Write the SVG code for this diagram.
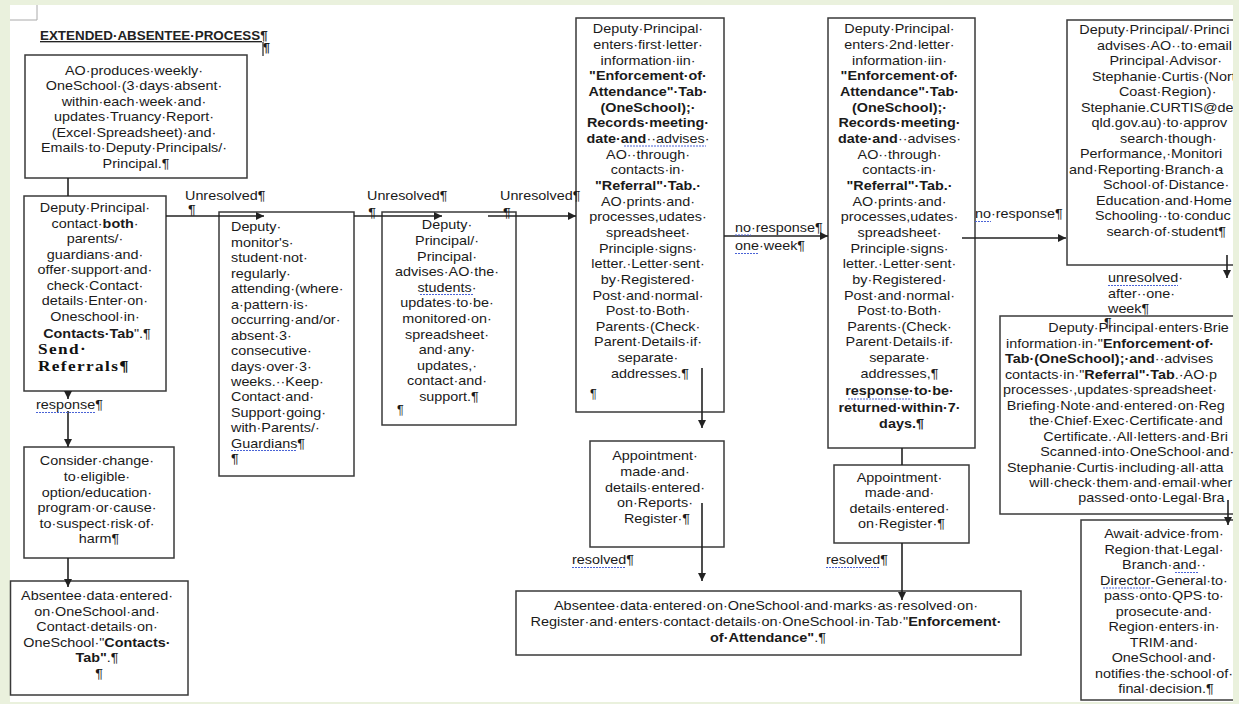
<svg xmlns="http://www.w3.org/2000/svg" width="1239" height="704" viewBox="0 0 1239 704">
<style>
.bx{fill:#fff;stroke:#3a3a3a;stroke-width:1.5}
.t{font-family:"Liberation Sans",Arial,sans-serif;font-size:12.5px;fill:#1a1a1a}
.b{font-weight:bold}
.c{text-anchor:middle}
.ln{stroke:#222;stroke-width:1.6;fill:none}
.ar{marker-end:url(#ah)}
.sq{stroke:#4a63d6;stroke-width:1;stroke-dasharray:2 1;fill:none}
.sf{font-family:"Liberation Serif","Times New Roman",serif;font-size:15px;font-weight:bold;fill:#111;letter-spacing:1.2px}
</style>
<defs>
<marker id="ah" markerWidth="8" markerHeight="8" refX="8" refY="4" orient="auto" markerUnits="userSpaceOnUse"><path d="M0,0 L8,4 L0,8 z" fill="#222"/></marker>
</defs>
<rect x="0" y="0" width="1239" height="704" fill="#eaf1dd"/>
<rect x="10" y="5" width="1223" height="697" fill="#fff"/>
<path d="M10,20 H37 V5" fill="none" stroke="#aaa" stroke-width="1"/>
<g id="title">
<text x="40" y="40" font-family="Liberation Sans,Arial,sans-serif" font-size="13.4" font-weight="bold" fill="#222" text-decoration="underline">EXTENDED·ABSENTEE·PROCESS¶</text>
<text x="263" y="52" class="t b">¶</text>
<line x1="263" y1="42" x2="263" y2="56" stroke="#222" stroke-width="1.2"/>
</g>

<g id="n1"><rect class="bx" x="25" y="55" width="222" height="123"/>
<text class="t c" transform="matrix(1.15 0 0 1 136 0)">
<tspan x="0" y="75">AO·produces·weekly·</tspan>
<tspan x="0" y="90.5">OneSchool·(3·days·absent·</tspan>
<tspan x="0" y="106">within·each·week·and·</tspan>
<tspan x="0" y="121.5">updates·Truancy·Report·</tspan>
<tspan x="0" y="137">(Excel·Spreadsheet)·and·</tspan>
<tspan x="0" y="152.5">Emails·to·Deputy·Principals/·</tspan>
<tspan x="0" y="168">Principal.¶</tspan></text></g>

<g id="n2"><rect class="bx" x="24" y="196" width="142" height="195"/>
<text class="t c" transform="matrix(1.15 0 0 1 97 0)">
<tspan x="0" y="212.5">Deputy·Principal·</tspan>
<tspan x="0" y="228">contact·<tspan class="b">both</tspan>·</tspan>
<tspan x="0" y="243.5">parents/·</tspan>
<tspan x="0" y="259">guardians·and·</tspan>
<tspan x="0" y="274.5">offer·support·and·</tspan>
<tspan x="0" y="290">check·Contact·</tspan>
<tspan x="0" y="305.5">details·Enter·on·</tspan>
<tspan x="0" y="321.5">Oneschool·in·</tspan>
<tspan x="0" y="338"><tspan class="b">Contacts·Tab</tspan>".¶</tspan></text>
<text class="sf" transform="matrix(1.15 0 0 1 38 0)"><tspan x="0" y="354">Send·</tspan><tspan x="0" y="371">Referrals¶</tspan></text></g>

<g id="n3"><rect class="bx" x="219" y="212" width="135" height="264"/>
<text class="t" transform="matrix(1.15 0 0 1 231 0)">
<tspan x="0" y="231.5">Deputy·</tspan>
<tspan x="0" y="247">monitor's·</tspan>
<tspan x="0" y="262.4">student·not·</tspan>
<tspan x="0" y="277.9">regularly·</tspan>
<tspan x="0" y="293.3">attending·(where·</tspan>
<tspan x="0" y="308.8">a·pattern·is·</tspan>
<tspan x="0" y="324.2">occurring·and/or·</tspan>
<tspan x="0" y="339.7">absent·3·</tspan>
<tspan x="0" y="355.1">consecutive·</tspan>
<tspan x="0" y="370.6">days·over·3·</tspan>
<tspan x="0" y="386">weeks.··Keep·</tspan>
<tspan x="0" y="401.5">Contact·and·</tspan>
<tspan x="0" y="416.9">Support·going·</tspan>
<tspan x="0" y="432.4">with·Parents/·</tspan>
<tspan x="0" y="447.8">Guardians¶</tspan>
<tspan x="0" y="463.3">¶</tspan></text>
<line class="sq" x1="231" y1="450.5" x2="297" y2="450.5"/></g>

<g id="n4"><rect class="bx" x="382" y="212" width="134" height="213"/>
<text class="t c" transform="matrix(1.15 0 0 1 449 0)">
<tspan x="0" y="229.5">Deputy·</tspan>
<tspan x="0" y="245.1">Principal/·</tspan>
<tspan x="0" y="260.7">Principal·</tspan>
<tspan x="0" y="276.3">advises·AO·the·</tspan>
<tspan x="0" y="291.9">students·</tspan>
<tspan x="0" y="307.5">updates·to·be·</tspan>
<tspan x="0" y="323.1">monitored·on·</tspan>
<tspan x="0" y="338.7">spreadsheet·</tspan>
<tspan x="0" y="354.3">and·any·</tspan>
<tspan x="0" y="369.9">updates,·</tspan>
<tspan x="0" y="385.5">contact·and·</tspan>
<tspan x="0" y="401.1">support.¶</tspan></text>
<text class="t" x="397" y="414">¶</text>
<line class="sq" x1="420" y1="294.5" x2="474" y2="294.5"/></g>

<g id="n5"><rect class="bx" x="576" y="18" width="148" height="394"/>
<text class="t c" transform="matrix(1.15 0 0 1 650 0)">
<tspan x="0" y="33.5">Deputy·Principal·</tspan>
<tspan x="0" y="49.2">enters·first·letter·</tspan>
<tspan x="0" y="64.8">information·iin·</tspan>
<tspan x="0" y="80.5" class="b">"Enforcement·of·</tspan>
<tspan x="0" y="96.1" class="b">Attendance"·Tab·</tspan>
<tspan x="0" y="111.8" class="b">(OneSchool);·</tspan>
<tspan x="0" y="127.4" class="b">Records·meeting·</tspan>
<tspan x="0" y="143.1"><tspan class="b">date·and</tspan>··advises·</tspan>
<tspan x="0" y="158.7">AO··through·</tspan>
<tspan x="0" y="174.4">contacts·in·</tspan>
<tspan x="0" y="190" class="b">"Referral"·Tab.·</tspan>
<tspan x="0" y="205.7">AO·prints·and·</tspan>
<tspan x="0" y="221.3">processes,udates·</tspan>
<tspan x="0" y="237">spreadsheet·</tspan>
<tspan x="0" y="252.6">Principle·signs·</tspan>
<tspan x="0" y="268.3">letter.·Letter·sent·</tspan>
<tspan x="0" y="283.9">by·Registered·</tspan>
<tspan x="0" y="299.6">Post·and·normal·</tspan>
<tspan x="0" y="315.2">Post·to·Both·</tspan>
<tspan x="0" y="330.9">Parents·(Check·</tspan>
<tspan x="0" y="346.5">Parent·Details·if·</tspan>
<tspan x="0" y="362.2">separate·</tspan>
<tspan x="0" y="377.8">addresses.¶</tspan></text>
<text class="t" x="590" y="398">¶</text>
<line class="sq" x1="624" y1="146" x2="706" y2="146"/></g>

<g id="n6"><rect class="bx" x="828" y="18" width="147" height="430"/>
<text class="t c" transform="matrix(1.15 0 0 1 901.5 0)">
<tspan x="0" y="33.5">Deputy·Principal·</tspan>
<tspan x="0" y="49.2">enters·2nd·letter·</tspan>
<tspan x="0" y="64.8">information·iin·</tspan>
<tspan x="0" y="80.5" class="b">"Enforcement·of·</tspan>
<tspan x="0" y="96.1" class="b">Attendance"·Tab·</tspan>
<tspan x="0" y="111.8" class="b">(OneSchool);·</tspan>
<tspan x="0" y="127.4" class="b">Records·meeting·</tspan>
<tspan x="0" y="143.1"><tspan class="b">date·and</tspan>··advises·</tspan>
<tspan x="0" y="158.7">AO··through·</tspan>
<tspan x="0" y="174.4">contacts·in·</tspan>
<tspan x="0" y="190" class="b">"Referral"·Tab.·</tspan>
<tspan x="0" y="205.7">AO·prints·and·</tspan>
<tspan x="0" y="221.3">processes,udates·</tspan>
<tspan x="0" y="237">spreadsheet·</tspan>
<tspan x="0" y="252.6">Principle·signs·</tspan>
<tspan x="0" y="268.3">letter.·Letter·sent·</tspan>
<tspan x="0" y="283.9">by·Registered·</tspan>
<tspan x="0" y="299.6">Post·and·normal·</tspan>
<tspan x="0" y="315.2">Post·to·Both·</tspan>
<tspan x="0" y="330.9">Parents·(Check·</tspan>
<tspan x="0" y="346.5">Parent·Details·if·</tspan>
<tspan x="0" y="362.2">separate·</tspan>
<tspan x="0" y="377.8">addresses,¶</tspan>
<tspan x="0" y="395.5" class="b">response·to·be·</tspan>
<tspan x="0" y="412.5" class="b">returned·within·7·</tspan>
<tspan x="0" y="428.5" class="b">days.¶</tspan></text>
<line class="sq" x1="848" y1="399" x2="912" y2="399"/></g>

<g id="n7"><rect class="bx" x="590" y="441" width="134" height="106"/>
<text class="t c" transform="matrix(1.15 0 0 1 657 0)">
<tspan x="0" y="460.5">Appointment·</tspan>
<tspan x="0" y="476.5">made·and·</tspan>
<tspan x="0" y="492.5">details·entered·</tspan>
<tspan x="0" y="507.5">on·Reports·</tspan>
<tspan x="0" y="523.5">Register·¶</tspan></text></g>

<g id="n8"><rect class="bx" x="834" y="465" width="135" height="78"/>
<text class="t c" transform="matrix(1.15 0 0 1 901.5 0)">
<tspan x="0" y="482.5">Appointment·</tspan>
<tspan x="0" y="497.5">made·and·</tspan>
<tspan x="0" y="513.5">details·entered·</tspan>
<tspan x="0" y="528.5">on·Register·¶</tspan></text></g>

<g id="n9"><rect class="bx" x="516" y="591" width="505" height="64"/>
<text class="t c" transform="matrix(1.16 0 0 1 768 0)">
<tspan x="0" y="610.5">Absentee·data·entered·on·OneSchool·and·marks·as·resolved·on·</tspan>
<tspan x="0" y="626.5">Register·and·enters·contact·details·on·OneSchool·in·Tab·"<tspan class="b">Enforcement·</tspan></tspan>
<tspan x="0" y="642.5"><tspan class="b">of·Attendance"</tspan>.¶</tspan></text></g>

<g id="n10"><rect class="bx" x="1067" y="20" width="200" height="245"/>
<text class="t" transform="matrix(1.15 0 0 1 1067 0)">
<tspan x="10.7" y="34.5">Deputy·Principal/·Princi</tspan>
<tspan x="26.1" y="50">advises·AO··to·email</tspan>
<tspan x="36.9" y="65.5">Principal·Advisor·</tspan>
<tspan x="21.7" y="81">Stephanie·Curtis·(Nort</tspan>
<tspan x="45.2" y="96.5">Coast·Region)·</tspan>
<tspan x="12.2" y="112">Stephanie.CURTIS@de</tspan>
<tspan x="21.4" y="127.5">qld.gov.au)·to·approv</tspan>
<tspan x="46.1" y="143">search·though·</tspan>
<tspan x="11.3" y="158.5">Performance,·Monitori</tspan>
<tspan x="1.7" y="174">and·Reporting·Branch·a</tspan>
<tspan x="31.3" y="189.5">School·of·Distance·</tspan>
<tspan x="25.2" y="205">Education·and·Home</tspan>
<tspan x="24.3" y="220.5">Schooling··to·conduc</tspan>
<tspan x="34.3" y="236">search·of·student¶</tspan></text></g>

<g id="n11"><rect class="bx" x="1000" y="316" width="280" height="198"/>
<text class="t" transform="matrix(1.15 0 0 1 1000 0)">
<tspan x="42" y="332.5">Deputy·Principal·enters·Brie</tspan>
<tspan x="5.2" y="348">information·in·"<tspan class="b">Enforcement·of·</tspan></tspan>
<tspan x="4.3" y="363.4"><tspan class="b">Tab·(OneSchool);·and</tspan>··advises</tspan>
<tspan x="4.3" y="378.9">contacts·in·"<tspan class="b">Referral"·Tab</tspan>.·AO·p</tspan>
<tspan x="2.6" y="394.3">processes·,updates·spreadsheet·</tspan>
<tspan x="5.8" y="409.8">Briefing·Note·and·entered·on·Reg</tspan>
<tspan x="25.5" y="425.2">the·Chief·Exec·Certificate·and</tspan>
<tspan x="37.7" y="440.7">Certificate.·All·letters·and·Bri</tspan>
<tspan x="35" y="456.1">Scanned·into·OneSchool·and·</tspan>
<tspan x="6" y="471.6">Stephanie·Curtis·including·all·atta</tspan>
<tspan x="25.5" y="487">will·check·them·and·email·wher</tspan>
<tspan x="68.1" y="502.5">passed·onto·Legal·Bra</tspan></text></g>

<g id="n12"><rect class="bx" x="1081" y="520" width="180" height="180"/>
<text class="t c" transform="matrix(1.15 0 0 1 1166 0)">
<tspan x="0" y="538.5">Await·advice·from·</tspan>
<tspan x="0" y="554">Region·that·Legal·</tspan>
<tspan x="0" y="569.5">Branch·and··</tspan>
<tspan x="0" y="585">Director-General·to·</tspan>
<tspan x="0" y="600.5">pass·onto·QPS·to·</tspan>
<tspan x="0" y="616">prosecute·and·</tspan>
<tspan x="0" y="631.5">Region·enters·in·</tspan>
<tspan x="0" y="647">TRIM·and·</tspan>
<tspan x="0" y="662.5">OneSchool·and·</tspan>
<tspan x="0" y="678">notifies·the·school·of·</tspan>
<tspan x="0" y="693.5">final·decision.¶</tspan></text>
<line class="sq" x1="1175" y1="572.5" x2="1199" y2="572.5"/>
<line class="sq" x1="1103" y1="588" x2="1153" y2="588"/></g>

<g id="n13"><rect class="bx" x="24" y="447" width="150" height="111"/>
<text class="t c" transform="matrix(1.15 0 0 1 99 0)">
<tspan x="0" y="465.5">Consider·change·</tspan>
<tspan x="0" y="481.5">to·eligible·</tspan>
<tspan x="0" y="497">option/education·</tspan>
<tspan x="0" y="512.5">program·or·cause·</tspan>
<tspan x="0" y="528">to·suspect·risk·of·</tspan>
<tspan x="0" y="543.5">harm¶</tspan></text></g>

<g id="n14"><rect class="bx" x="10.5" y="581" width="177.5" height="114"/>
<text class="t c" transform="matrix(1.15 0 0 1 99 0)">
<tspan x="0" y="600.5">Absentee·data·entered·</tspan>
<tspan x="0" y="616.5">on·OneSchool·and·</tspan>
<tspan x="0" y="631.5">Contact·details·on·</tspan>
<tspan x="0" y="647.5">OneSchool·"<tspan class="b">Contacts·</tspan></tspan>
<tspan x="0" y="662.5"><tspan class="b">Tab"</tspan>.¶</tspan>
<tspan x="0" y="678.5">¶</tspan></text></g>

<g id="connectors">
<line class="ln" x1="68" y1="178" x2="68" y2="196"/>
<line class="ln ar" x1="166" y1="216" x2="264" y2="216"/>
<line class="ln ar" x1="354" y1="216" x2="442" y2="216"/>
<line class="ln ar" x1="488" y1="216" x2="576" y2="216"/>
<line class="ln ar" x1="724" y1="236" x2="828" y2="236"/>
<line class="ln ar" x1="962" y1="238" x2="1066" y2="238"/>
<line class="ln ar" x1="702" y1="368" x2="702" y2="428"/>
<line class="ln ar" x1="702" y1="503" x2="702" y2="581"/>
<line class="ln" x1="902" y1="448" x2="902" y2="465"/>
<line class="ln ar" x1="902" y1="543" x2="902" y2="600"/>
<line class="ln ar" x1="1227" y1="255" x2="1227" y2="278"/>
<line class="ln ar" x1="1228" y1="500" x2="1228" y2="525"/>
<line class="ln ar" x1="68" y1="391" x2="68" y2="399"/>
<line class="ln ar" x1="68" y1="411" x2="68" y2="447"/>
<line class="ln ar" x1="68" y1="558" x2="68" y2="587"/>
</g>

<g id="labels">
<text class="t" transform="matrix(1.15 0 0 1 185 0)"><tspan x="0" y="200.5">Unresolved¶</tspan><tspan x="2.6" y="214">¶</tspan></text>
<text class="t" transform="matrix(1.15 0 0 1 367 0)"><tspan x="0" y="200.5">Unresolved¶</tspan><tspan x="1" y="217">¶</tspan></text>
<text class="t" transform="matrix(1.15 0 0 1 500 0)"><tspan x="0" y="200.5">Unresolved¶</tspan><tspan x="2.6" y="217">¶</tspan></text>
<text class="t" transform="matrix(1.15 0 0 1 735 0)"><tspan x="0" y="232">no·response¶</tspan><tspan x="0" y="250.5">one·week¶</tspan></text>
<line class="sq" x1="735" y1="235" x2="751" y2="235"/>
<line class="sq" x1="735" y1="253.5" x2="759" y2="253.5"/>
<text class="t" transform="matrix(1.15 0 0 1 975 0)"><tspan x="0" y="218.5">no·response¶</tspan></text>
<line class="sq" x1="975" y1="221.5" x2="991" y2="221.5"/>
<text class="t" transform="matrix(1.15 0 0 1 1108 0)"><tspan x="0" y="282.5">unresolved·</tspan><tspan x="0" y="298">after··one·</tspan><tspan x="0" y="313">week¶</tspan><tspan x="-3.5" y="327">¶</tspan></text>
<line class="sq" x1="1108" y1="285.5" x2="1178" y2="285.5"/>
<text class="t" transform="matrix(1.15 0 0 1 36 0)"><tspan x="0" y="409.5">response¶</tspan></text>
<line class="sq" x1="36" y1="412.5" x2="95" y2="412.5"/>
<text class="t" transform="matrix(1.15 0 0 1 572 0)"><tspan x="0" y="564.5">resolved¶</tspan></text>
<line class="sq" x1="572" y1="567.5" x2="626" y2="567.5"/>
<text class="t" transform="matrix(1.15 0 0 1 826 0)"><tspan x="0" y="564.5">resolved¶</tspan></text>
<line class="sq" x1="826" y1="567.5" x2="880" y2="567.5"/>
</g>
<rect x="1233" y="0" width="6" height="704" fill="#eaf1dd"/>
<rect x="0" y="702" width="1239" height="2" fill="#eaf1dd"/>
</svg>
